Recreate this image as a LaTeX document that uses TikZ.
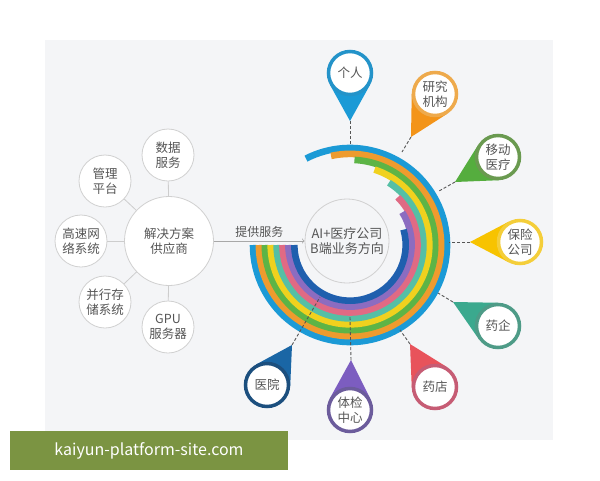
\documentclass[tikz,border=0pt]{standalone}
\usepackage{fontspec}
\setmainfont{Noto Sans CJK SC}
\usetikzlibrary{calc,backgrounds}

\definecolor{panelbg}{HTML}{F4F5F7}
\definecolor{circlegray}{HTML}{D0D0D0}
\definecolor{linkgray}{HTML}{CDCDCD}
\definecolor{txtgray}{HTML}{555555}
\definecolor{arrowgray}{HTML}{A8A8A8}
\definecolor{leadgray}{HTML}{555555}
\definecolor{bandblue}{HTML}{1B9AD6}
\definecolor{bandorange}{HTML}{EE9B2E}
\definecolor{bandgreen}{HTML}{5DB446}
\definecolor{bandyellow}{HTML}{F0D11E}
\definecolor{bandteal}{HTML}{55BFA5}
\definecolor{bandpink}{HTML}{E06A84}
\definecolor{bandpurple}{HTML}{8C6CC0}
\definecolor{bandnavy}{HTML}{1F5FAE}
\definecolor{gerenF}{HTML}{1B9AD6}
\definecolor{gerenR}{HTML}{2493C9}
\definecolor{yanjiuF}{HTML}{F39419}
\definecolor{yanjiuR}{HTML}{EEAA4C}
\definecolor{yidongF}{HTML}{55AD3E}
\definecolor{yidongR}{HTML}{6A9A50}
\definecolor{baoxianF}{HTML}{F7C300}
\definecolor{baoxianR}{HTML}{F4CE3A}
\definecolor{yaoqiF}{HTML}{3BA98E}
\definecolor{yaoqiR}{HTML}{4E9B87}
\definecolor{yaodianF}{HTML}{E8535B}
\definecolor{yaodianR}{HTML}{C65C74}
\definecolor{tijianF}{HTML}{7C5DC0}
\definecolor{tijianR}{HTML}{6C5C9C}
\definecolor{yiyuanF}{HTML}{1A66A5}
\definecolor{yiyuanR}{HTML}{1C4F7E}
\definecolor{bannergreen}{HTML}{7B9442}

\tikzset{
  sat/.style={circle, draw=circlegray, fill=white, line width=0.8pt, minimum size=52pt, inner sep=0pt, align=center, text=txtgray, font=\fontsize{12.5}{15}\selectfont},
  hub/.style={sat, minimum size=89pt},
  link/.style={draw=linkgray, line width=0.8pt},
  band/.style={line width=6.6pt},
  pinhead/.style={circle, draw=#1, fill=white, line width=3.5pt, minimum size=43pt, inner sep=0pt, align=center, text=txtgray, font=\fontsize{12.5}{15}\selectfont},
  lead/.style={draw=leadgray, line width=0.9pt, dash pattern=on 3pt off 2pt},
  banner/.style={fill=bannergreen, text=white, minimum width=278pt, minimum height=39pt, inner sep=0pt, font=\fontsize{16}{18}\selectfont}
}

\begin{document}
\begin{tikzpicture}[x=1pt, y=-1pt]
\useasboundingbox (0,0) rectangle (600,480);
\begin{pgfonlayer}{background}
\fill [white] (0,0) rectangle (600,480);
\fill [panelbg] (45,40) rectangle (553,440);
\end{pgfonlayer}

\node [hub] (fangan) at (169,241) {解决方案\\供应商};
\node [sat] (shuju) at (168,155) {数据\\服务};
\node [sat] (guanli) at (105,181) {管理\\平台};
\node [sat] (gaosu) at (81,241) {高速网\\络系统};
\node [sat] (bingxing) at (105,302) {并行存\\储系统};
\node [sat] (gpu) at (168,327) {GPU\\服务器};
\draw [link] (fangan) -- (shuju);
\draw [link] (fangan) -- (guanli);
\draw [link] (fangan) -- (gaosu);
\draw [link] (fangan) -- (bingxing);
\draw [link] (fangan) -- (gpu);

\node [circle, draw=circlegray, line width=0.8pt, minimum size=84pt, inner sep=0pt, align=center, text=txtgray, font=\fontsize{13}{14.5}\selectfont] (ai) at (347,241) {AI+医疗公司\\B端业务方向};
\draw [->, arrowgray, line width=0.8pt] (fangan) -- node [above, text=txtgray, font=\fontsize{12}{14}\selectfont] {提供服务} (ai);

\coordinate (ringc) at (350,245);
\draw [band, bandblue] (ringc) ++(-117:97) arc [start angle=-117, end angle=180, radius=97];
\draw [band, bandorange] (ringc) ++(-102:91.1) arc [start angle=-102, end angle=180, radius=91.1];
\draw [band, bandgreen] (ringc) ++(-87:85.2) arc [start angle=-87, end angle=180, radius=85.2];
\draw [band, bandyellow] (ringc) ++(-72:79.3) arc [start angle=-72, end angle=180, radius=79.3];
\draw [band, bandteal] (ringc) ++(-58:73.4) arc [start angle=-58, end angle=180, radius=73.4];
\draw [band, bandpink] (ringc) ++(-45:67.5) arc [start angle=-45, end angle=180, radius=67.5];
\draw [band, bandpurple] (ringc) ++(-32:61.6) arc [start angle=-32, end angle=180, radius=61.6];
\draw [band, bandnavy] (ringc) ++(-16:55.7) arc [start angle=-16, end angle=180, radius=55.7];

\node [pinhead=gerenR] (geren) at (350,73) {个人};
\node [pinhead=yanjiuR] (yanjiu) at (435,94) {研究\\机构};
\node [pinhead=yidongR] (yidong) at (498,157) {移动\\医疗};
\node [pinhead=baoxianR] (baoxian) at (520,242) {保险\\公司};
\node [pinhead=yaoqiR] (yaoqi) at (498,326) {药企};
\node [pinhead=yaodianR] (yaodian) at (435,387) {药店};
\node [pinhead=tijianR] (tijian) at (350,410) {体检\\中心};
\node [pinhead=yiyuanR] (yiyuan) at (267,385) {医院};

\coordinate (geren-tip) at (350,121);
\coordinate (yanjiu-tip) at (411,137);
\coordinate (yidong-tip) at (455,182);
\coordinate (baoxian-tip) at (470,242);
\coordinate (yaoqi-tip) at (453,302);
\coordinate (yaodian-tip) at (410,344);
\coordinate (tijian-tip) at (351,360);
\coordinate (yiyuan-tip) at (292,345);

\coordinate (geren-end) at (350,144);
\coordinate (yanjiu-end) at (402,152);
\coordinate (yidong-end) at (439,191);
\coordinate (baoxian-end) at (449,242);
\coordinate (yaoqi-end) at (438,293);
\coordinate (yaodian-end) at (400,330);
\coordinate (tijian-end) at (350,317);
\coordinate (yiyuan-end) at (320,297);

\begin{pgfonlayer}{background}
\fill [gerenF] (geren-tip) -- (tangent cs:node=geren,point={(geren-tip)},solution=1) -- (tangent cs:node=geren,point={(geren-tip)},solution=2) -- cycle;
\fill [yanjiuF] (yanjiu-tip) -- (tangent cs:node=yanjiu,point={(yanjiu-tip)},solution=1) -- (tangent cs:node=yanjiu,point={(yanjiu-tip)},solution=2) -- cycle;
\fill [yidongF] (yidong-tip) -- (tangent cs:node=yidong,point={(yidong-tip)},solution=1) -- (tangent cs:node=yidong,point={(yidong-tip)},solution=2) -- cycle;
\fill [baoxianF] (baoxian-tip) -- (tangent cs:node=baoxian,point={(baoxian-tip)},solution=1) -- (tangent cs:node=baoxian,point={(baoxian-tip)},solution=2) -- cycle;
\fill [yaoqiF] (yaoqi-tip) -- (tangent cs:node=yaoqi,point={(yaoqi-tip)},solution=1) -- (tangent cs:node=yaoqi,point={(yaoqi-tip)},solution=2) -- cycle;
\fill [yaodianF] (yaodian-tip) -- (tangent cs:node=yaodian,point={(yaodian-tip)},solution=1) -- (tangent cs:node=yaodian,point={(yaodian-tip)},solution=2) -- cycle;
\fill [tijianF] (tijian-tip) -- (tangent cs:node=tijian,point={(tijian-tip)},solution=1) -- (tangent cs:node=tijian,point={(tijian-tip)},solution=2) -- cycle;
\fill [yiyuanF] (yiyuan-tip) -- (tangent cs:node=yiyuan,point={(yiyuan-tip)},solution=1) -- (tangent cs:node=yiyuan,point={(yiyuan-tip)},solution=2) -- cycle;
\end{pgfonlayer}

\draw [lead] (geren-tip) -- (geren-end);
\draw [lead] (yanjiu-tip) -- (yanjiu-end);
\draw [lead] (yidong-tip) -- (yidong-end);
\draw [lead] (baoxian-tip) -- (baoxian-end);
\draw [lead] (yaoqi-tip) -- (yaoqi-end);
\draw [lead] (yaodian-tip) -- (yaodian-end);
\draw [lead] (tijian-tip) -- (tijian-end);
\draw [lead] (yiyuan-tip) -- (yiyuan-end);

\node [banner] (mark) at (149,450.5) {kaiyun-platform-site.com};
\end{tikzpicture}
\end{document}
